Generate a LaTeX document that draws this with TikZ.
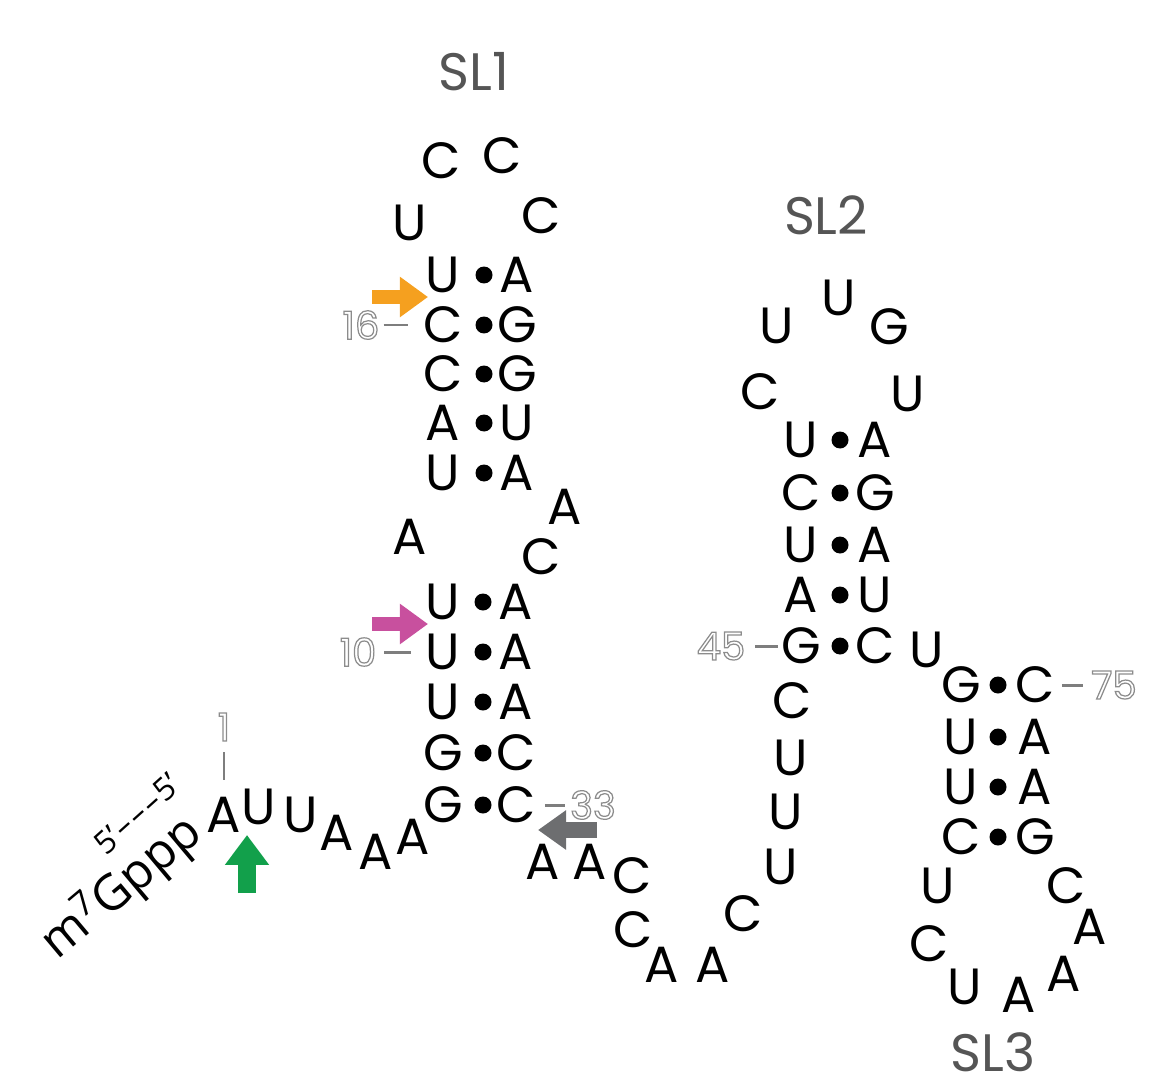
\documentclass[tikz,border=0pt]{standalone}
\usepackage{fontspec}
\setmainfont{Poppins}
\newfontfamily\capfont{Open Sans}
\usetikzlibrary{arrows.meta}

\definecolor{slgray}{HTML}{555555}
\definecolor{numgray}{HTML}{8C8C8C}
\definecolor{arrorange}{HTML}{F5A01F}
\definecolor{arrmagenta}{HTML}{C8509E}
\definecolor{arrgreen}{HTML}{12A04B}
\definecolor{arrgray}{HTML}{6D6E70}

% outlined digits for the numbering
\newcommand\hollow[1]{\special{pdf:literal direct 1 Tr 0.7 w}#1\special{pdf:literal direct 0 Tr}}

\tikzset{
  base/.style={font=\fontsize{29}{29}\selectfont, inner sep=1pt},
  pair/.style={circle, fill, inner sep=0pt, minimum size=0.34cm},
  num/.style={font=\fontsize{22}{22}\selectfont, text=numgray, inner sep=1pt},
  tick/.style={numgray!90!black, line width=1.7pt},
  sl/.style={font=\fontsize{30}{30}\selectfont, text=slgray, inner sep=0pt},
  arr/.style={line width=8.5pt, -{Triangle[length=16pt,width=22pt]}}
}

\begin{document}
\begin{tikzpicture}[x=0.02cm, y=-0.02cm]
\useasboundingbox (0,0) rectangle (1158,1084);

% stem-loop names
\node[sl] (sl1) at (474,72) {SL1};
\node[sl] (sl2) at (826,215) {SL2};
\node[sl] (sl3) at (993,1052) {SL3};

% SL1, upper and lower stem
\foreach \l/\r/\y [count=\i] in {U/A/275,C/G/325,C/G/374,A/U/423,U/A/473}{
  \node[base] (aL\i) at (443,\y) {\l};
  \node[pair] (aP\i) at (484,\y) {};
  \node[base] (aR\i) at (517,\y) {\r};
}
\foreach \l/\r/\y [count=\i] in {U/A/602,U/A/652,U/A/702,G/C/753,G/C/805}{
  \node[base] (bL\i) at (443,\y) {\l};
  \node[pair] (bP\i) at (483,\y) {};
  \node[base] (bR\i) at (516,\y) {\r};
}
% SL2 stem
\foreach \l/\r/\y [count=\i] in {U/A/440,C/G/493,U/A/545,A/U/595,G/C/646}{
  \node[base] (cL\i) at (801,\y) {\l};
  \node[pair] (cP\i) at (840,\y) {};
  \node[base] (cR\i) at (875,\y) {\r};
}
% SL3 stem
\foreach \l/\r/\y [count=\i] in {G/C/685,U/A/737,U/A/787,C/G/837}{
  \node[base] (dL\i) at (961,\y) {\l};
  \node[pair] (dP\i) at (998,\y) {};
  \node[base] (dR\i) at (1035,\y) {\r};
}

% unpaired bases
\foreach \b/\x/\y [count=\i] in {A/224/815,U/259/807,U/301/815,A/337/833,A/376/852,A/413/837}
  \node[base] (f\i) at (\x,\y) {\b};
\foreach \b/\x/\y [count=\i] in {U/410/223,C/441/161,C/502/156,C/541/216}
  \node[base] (g\i) at (\x,\y) {\b};
\foreach \b/\x/\y [count=\i] in {A/410/537,A/565/507,C/541/557}
  \node[base] (h\i) at (\x,\y) {\b};
\foreach \b/\x/\y [count=\i] in {A/543/862,A/590/862,C/632/876,C/633/930,A/662/965,A/713/965,C/743/914,U/781/867,U/786/812,U/791/758,C/792/701}
  \node[base] (k\i) at (\x,\y) {\b};
\foreach \b/\x/\y [count=\i] in {C/760/392,U/777/326,U/839/298,G/889/327,U/908/394}
  \node[base] (m\i) at (\x,\y) {\b};
\node[base] (u1) at (927,650) {U};
\foreach \b/\x/\y [count=\i] in {U/938/886,C/929/944,U/965/987,A/1019/995,A/1064/974,A/1090/927,C/1066/886}
  \node[base] (n\i) at (\x,\y) {\b};

% cap
\node[rotate=40, font=\capfont\fontsize{28}{28}\selectfont, inner sep=0pt] (cap) at (122,888) {m\textsuperscript{7}Gppp};
\node[rotate=42, font=\capfont\fontsize{18}{18}\selectfont, inner sep=0pt] (link) at (137,814) {5’\kern1pt–\kern1.5pt–\kern1.5pt–\kern1pt5’};

% numbering
\node[num] (n1) at (224,727) {\hollow{1}};
\node[num] (n10) at (358,652) {\hollow{10}};
\node[num] (n16) at (361,325) {\hollow{16}};
\node[num] (n33) at (593,805) {\hollow{33}};
\node[num] (n45) at (721,646) {\hollow{45}};
\node[num] (n75) at (1114,685) {\hollow{75}};
\draw[tick, shorten <=0.18cm, shorten >=0.3cm] (n1) -- (f1);
\draw[tick, shorten <=0.12cm, shorten >=0.26cm] (n10) -- (bL2);
\draw[tick, shorten <=0.04cm, shorten >=0.26cm] (n16) -- (aL2);
\draw[tick, shorten <=0.14cm, shorten >=0.06cm] (bR5) -- (n33);
\draw[tick, shorten <=0.16cm, shorten >=0.02cm] (n45) -- (cL5);
\draw[tick, shorten <=0.1cm, shorten >=0.12cm] (dR1) -- (n75);

% arrows
\coordinate (oTail) at (372,297); \coordinate (oTip) at (428,297);
\coordinate (mTail) at (372,624); \coordinate (mTip) at (428,624);
\coordinate (gTail) at (597,830); \coordinate (gTip) at (538,830);
\coordinate (eTail) at (247,893); \coordinate (eTip) at (247,835);
\draw[arr, arrorange] (oTail) -- (oTip);
\draw[arr, arrmagenta] (mTail) -- (mTip);
\draw[arr, arrgray, line width=9.6pt, -{Triangle[length=16pt,width=21.5pt]}] (gTail) -- (gTip);
\draw[arr, arrgreen, line width=10pt, -{Triangle[length=17pt,width=24pt]}] (eTail) -- (eTip);
\end{tikzpicture}
\end{document}
